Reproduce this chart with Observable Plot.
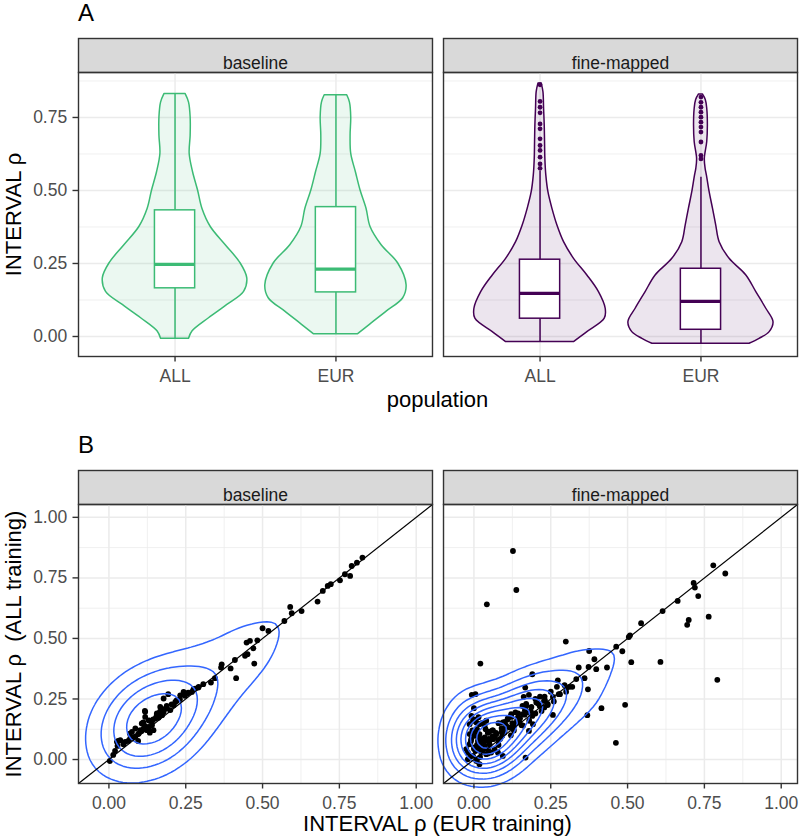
<!DOCTYPE html>
<html>
<head>
<meta charset="utf-8">
<script src="https://cdn.jsdelivr.net/npm/d3@7"></script>
<script src="https://cdn.jsdelivr.net/npm/@observablehq/plot@0.6"></script>
<style>
  body { margin: 0; background: #fff; }
  #wrap { position: relative; width: 800px; height: 840px; font-family: "Liberation Sans", Arial, Helvetica, sans-serif; color: #000; }
  .abs { position: absolute; }
  .tag { left: 78px; font-size: 24px; line-height: 24px; }
  .xt { left: 78px; width: 719px; text-align: center; font-size: 22px; }
</style>
</head>
<body>
<div id="wrap">
  <div class="abs tag" style="top:1px">A</div>
  <div class="abs" id="pA" style="top:30px;left:0px"></div>
  <div class="abs xt" style="top:387px;line-height:25px">population</div>
  <div class="abs tag" style="top:433px">B</div>
  <div class="abs" id="pB" style="top:457px;left:0px"></div>
  <div class="abs xt" style="top:814px;line-height:19px">INTERVAL ρ (EUR training)</div>
</div>
<script>
// ---------- data ----------
const facets = ["baseline", "fine-mapped"];
const populations = ["ALL", "EUR"];
const groupColors = ["#3CBB75", "#440154"];

// violin outlines: y value and half-width (in x units)
const violinBaselineAllY = [-0.008, 0.017, 0.0625, 0.108, 0.153, 0.199, 0.25, 0.3125, 0.375, 0.4375, 0.5, 0.5625, 0.625, 0.6875, 0.75, 0.801, 0.830];
const violinBaselineAllW = [0.087, 0.108, 0.211, 0.325, 0.429, 0.449, 0.408, 0.315, 0.222, 0.170, 0.143, 0.112, 0.091, 0.097, 0.097, 0.087, 0.066];
const violinBaselineEurY = [0.008, 0.040, 0.085, 0.131, 0.176, 0.25, 0.3125, 0.375, 0.4375, 0.5, 0.5625, 0.625, 0.6875, 0.75, 0.801, 0.826];
const violinBaselineEurW = [0.138, 0.211, 0.315, 0.418, 0.439, 0.387, 0.284, 0.215, 0.190, 0.153, 0.124, 0.095, 0.091, 0.095, 0.087, 0.070];
const violinFineAllY = [-0.019, 0.015, 0.061, 0.095, 0.152, 0.209, 0.266, 0.323, 0.380, 0.437, 0.494, 0.551, 0.608, 0.666, 0.723, 0.780, 0.837, 0.866];
const violinFineAllW = [0.211, 0.294, 0.402, 0.408, 0.366, 0.294, 0.211, 0.149, 0.108, 0.077, 0.052, 0.039, 0.033, 0.031, 0.029, 0.025, 0.021, 0.010];
const violinFineEurY = [-0.025, -0.008, 0.015, 0.049, 0.095, 0.152, 0.209, 0.266, 0.323, 0.380, 0.437, 0.494, 0.551, 0.574, 0.608, 0.666, 0.723, 0.780, 0.810, 0.829];
const violinFineEurW = [0.302, 0.364, 0.427, 0.451, 0.406, 0.344, 0.282, 0.178, 0.116, 0.095, 0.075, 0.054, 0.037, 0.029, 0.024, 0.039, 0.043, 0.039, 0.030, 0.012];

// box statistics: baseline ALL, baseline EUR, fine-mapped ALL, fine-mapped EUR
const boxFacet = ["baseline", "baseline", "fine-mapped", "fine-mapped"];
const boxPop = ["ALL", "EUR", "ALL", "EUR"];
const boxQ1 = [0.165, 0.151, 0.061, 0.023];
const boxMedian = [0.247, 0.231, 0.148, 0.120];
const boxQ3 = [0.432, 0.443, 0.263, 0.232];
const whiskerLow = [-0.008, 0.008, -0.019, -0.025];
const whiskerHigh = [0.830, 0.826, 0.566, 0.545];

// outliers (fine-mapped)
const outliersFineAll = [0.862, 0.805, 0.785, 0.766, 0.728, 0.711, 0.677, 0.654, 0.637, 0.614, 0.591, 0.576];
const outliersFineEur = [0.820, 0.802, 0.785, 0.768, 0.751, 0.734, 0.717, 0.700, 0.666, 0.620, 0.608];

// scatter: INTERVAL rho, EUR training (x) vs ALL training (y)
const baselineEUR = [0.825,0.807,0.790,0.768,0.785,0.752,0.722,0.712,0.696,0.679,0.627,0.595,0.590,0.571,0.519,0.500,0.483,0.459,0.448,0.470,0.451,0.443,0.473,0.410,0.396,0.367,0.365,0.414,0.345,0.332,0.307,0.291,0.275,0.258,0.247,0.231,0.220,0.193,0.204,0.188,0.177,0.166,0.171,0.161,0.155,0.144,0.133,0.117,0.112,0.117,0.128,0.106,0.133,0.095,0.079,0.095,0.068,0.063,0.047,0.030,0.028,0.020,0.014,0.003,
  0.292,0.281,0.270,0.254,0.232,0.221,0.211,0.200,0.189,0.178,0.173,0.162,0.151,0.140,0.129,0.118,0.118,0.129,0.124,0.145,0.107,0.113,0.097,0.086,0.075,0.069,0.053,0.037,0.026,0.178,0.243,0.216,0.156,0.167,0.140,0.102,0.086];
const baselineALL = [0.834,0.813,0.799,0.765,0.758,0.740,0.724,0.717,0.696,0.652,0.613,0.604,0.630,0.572,0.531,0.542,0.492,0.490,0.483,0.459,0.435,0.428,0.396,0.411,0.376,0.393,0.380,0.336,0.336,0.318,0.311,0.297,0.290,0.276,0.263,0.249,0.242,0.270,0.228,0.221,0.208,0.198,0.187,0.173,0.180,0.166,0.160,0.201,0.153,0.139,0.125,0.118,0.111,0.105,0.091,0.077,0.107,0.077,0.063,0.077,0.056,0.036,0.019,-0.006,
  0.300,0.293,0.279,0.272,0.265,0.245,0.224,0.204,0.210,0.197,0.183,0.176,0.169,0.155,0.162,0.197,0.176,0.135,0.121,0.121,0.149,0.128,0.107,0.094,0.114,0.087,0.073,0.080,0.073,0.252,0.279,0.238,0.190,0.217,0.142,0.121,0.128];
const fineEUR = [0.127,0.138,0.042,0.779,0.818,0.715,0.719,0.730,0.663,0.614,0.544,0.699,0.694,0.764,0.508,0.504,0.463,0.483,0.299,0.375,0.392,0.512,0.607,0.792,0.021,0.190,0.341,0.373,0.398,0.433,0.273,0.333,0.360,0.295,0.302,0.311,0.371,0.276,0.257,0.167,0.162,0.179,0.228,0.214,0.229,0.203,0.257,0.158,0.179,0.159,0.143,0.121,0.148,0.132,0.116,0.094,0.099,0.092,0.179,0.192,0.415,0.492,0.369,0.462,0.168,-0.007,0.005,0.000,-0.014,-0.003,0.008,0.018,0.035,-0.014,0.002,0.018,0.035,0.062,0.073,-0.014,0.002,0.018,0.035,0.051,0.067,0.078,-0.020,-0.003,-0.020,0.008,0.018,0.094,0.040,0.056,0.029,0.013,-0.009,0.024,0.046,-0.025,
  0.101,0.122,0.144,0.166,0.187,0.209,0.231,0.155,0.128,0.090,0.068,0.079,0.010,0.025,0.005,0.030,0.015,-0.005,0.010,0.045,0.050,0.020,
  -0.012,0.000,0.012,0.024,0.036,0.048,0.060,0.072,-0.010,0.002,0.014,0.026,0.038,0.050,0.062,0.005,0.015,-0.008,0.025,0.040,0.010,0.046,0.080,0.085,0.090,0.105,0.110,0.125,0.135,0.150,0.165,0.170,0.185,0.200,0.215,0.240,0.250,
  0.10,0.12,0.14,0.16,0.18,0.20,0.22,0.24,0.26,0.28,0.30,0.32,0.11,0.13,0.17,0.19,0.23,0.27,0.06,0.08];
const fineALL = [0.861,0.700,0.641,0.802,0.768,0.729,0.710,0.675,0.655,0.613,0.563,0.576,0.556,0.590,0.513,0.506,0.466,0.447,0.487,0.448,0.414,0.402,0.403,0.329,0.396,0.352,0.380,0.382,0.373,0.380,0.327,0.332,0.336,0.307,0.297,0.300,0.290,0.270,0.259,0.297,0.259,0.267,0.242,0.221,0.215,0.235,0.184,0.221,0.194,0.187,0.173,0.187,0.153,0.146,0.132,0.153,0.111,0.098,0.118,0.146,0.212,0.226,0.183,0.069,0.008,0.267,0.270,0.212,0.146,0.160,0.153,0.146,0.139,0.105,0.098,0.105,0.091,0.084,0.105,0.063,0.050,0.043,0.056,0.063,0.043,0.029,0.029,0.015,0.001,-0.006,-0.019,0.015,0.022,0.029,0.077,0.077,0.084,0.029,0.043,0.043,
  0.155,0.176,0.190,0.203,0.217,0.231,0.245,0.142,0.135,0.114,0.093,0.080,0.060,0.065,0.035,0.040,0.090,0.120,0.125,0.110,0.075,0.010,
  0.012,0.045,0.055,0.040,0.075,0.085,0.095,0.110,0.075,0.110,0.100,0.085,0.125,0.115,0.120,0.165,0.175,0.180,0.150,0.160,0.000,0.025,0.060,0.085,0.130,0.140,0.165,0.150,0.195,0.170,0.185,0.230,0.200,0.250,0.260,0.225,0.280,
  0.12,0.10,0.16,0.14,0.16,0.19,0.20,0.23,0.24,0.27,0.28,0.30,0.17,0.12,0.22,0.18,0.26,0.30,0.12,0.15];

// axis ticks
const ticksA = [0, 0.25, 0.5, 0.75];
const minorA = [0.125, 0.375, 0.625, 0.875];
const ticksB = [0, 0.25, 0.5, 0.75, 1];
const minorB = [0.125, 0.375, 0.625, 0.875];
const rhoDomain = [-0.099, 1.053];

// ---------- tables ----------
const violins = [
  {facet: "baseline", pop: "ALL", y: violinBaselineAllY, w: violinBaselineAllW},
  {facet: "baseline", pop: "EUR", y: violinBaselineEurY, w: violinBaselineEurW},
  {facet: "fine-mapped", pop: "ALL", y: violinFineAllY, w: violinFineAllW},
  {facet: "fine-mapped", pop: "EUR", y: violinFineEurY, w: violinFineEurW}
];
const violinRows = violins.flatMap(v => v.y.map((y, i) => ({
  facet: v.facet, key: v.facet + v.pop, pos: populations.indexOf(v.pop) + 1, y, w: v.w[i]
})));
const boxRows = boxFacet.map((f, i) => ({
  facet: f, pos: populations.indexOf(boxPop[i]) + 1,
  q1: boxQ1[i], med: boxMedian[i], q3: boxQ3[i], lo: whiskerLow[i], hi: whiskerHigh[i]
}));
const outlierRows = [
  ...outliersFineAll.map(y => ({facet: "fine-mapped", pos: 1, y})),
  ...outliersFineEur.map(y => ({facet: "fine-mapped", pos: 2, y}))
];
const baselineRows = baselineEUR.map((x, i) => ({facet: "baseline", eur: x, all: baselineALL[i]}));
const fineRows = fineEUR.map((x, i) => ({facet: "fine-mapped", eur: x, all: fineALL[i]}));
const scatterRows = [...baselineRows, ...fineRows];

// ---------- styles ----------
const FONT = "'Liberation Sans', Arial, Helvetica, sans-serif";
const BOX_HALF = 0.125;
const gridMajor = {stroke: "#EBEBEB", strokeOpacity: 1, strokeWidth: 1.5};
const gridMinor = {stroke: "#EBEBEB", strokeOpacity: 1, strokeWidth: 0.8};
const axisStyle = {color: "#4D4D4D", stroke: "#333333", strokeWidth: 1.4, tickSize: 5.5, fontSize: 17.5, label: null};
const fxScale = {domain: facets, paddingInner: 0.0302, paddingOuter: 0, round: false, axis: null, label: null};
const yTitleStyle = {fx: () => "baseline", frameAnchor: "left", textAnchor: "middle", lineAnchor: "middle",
  rotate: -90, dx: -65, fontSize: 22, fill: "#000"};
const contourStyle = {fx: "facet", x: "eur", y: "all", stroke: "#3366FF", strokeWidth: 1.5};

function strip(frameHeight) {
  return [
    Plot.frame({fill: "#D9D9D9", stroke: "#333333", strokeWidth: 1.4, insetTop: -34, insetBottom: frameHeight}),
    Plot.text(facets, {fx: d => d, text: d => d, frameAnchor: "top", dy: -15.5, fontSize: 17.5, fill: "#1A1A1A"})
  ];
}

// ---------- panel A ----------
const plotA = Plot.plot({
  width: 800, height: 356,
  marginTop: 42, marginBottom: 30, marginLeft: 78, marginRight: 3,
  style: {fontFamily: FONT, background: "transparent", display: "block", overflow: "visible"},
  fx: fxScale,
  x: {domain: [0.4, 2.6]},
  y: {domain: [-0.0685, 0.904]},
  color: {domain: facets, range: groupColors},
  marks: [
    ...strip(284),
    Plot.gridY(minorA, gridMinor),
    Plot.gridY(ticksA, gridMajor),
    Plot.gridX([1, 2], gridMajor),
    Plot.areaX(violinRows, {fx: "facet", z: "key", y: "y", x1: d => d.pos - d.w, x2: d => d.pos + d.w,
      fill: "facet", fillOpacity: 0.1, stroke: "facet", strokeWidth: 1.5, curve: "catmull-rom"}),
    Plot.ruleX(boxRows, {fx: "facet", x: "pos", y1: "lo", y2: "hi", stroke: "facet", strokeWidth: 1.5}),
    Plot.rect(boxRows, {fx: "facet", x1: d => d.pos - BOX_HALF, x2: d => d.pos + BOX_HALF, y1: "q1", y2: "q3",
      fill: "white", stroke: "facet", strokeWidth: 1.5}),
    Plot.ruleY(boxRows, {fx: "facet", y: "med", x1: d => d.pos - BOX_HALF, x2: d => d.pos + BOX_HALF,
      stroke: "facet", strokeWidth: 3.2}),
    Plot.dot(outlierRows, {fx: "facet", x: "pos", y: "y", fill: "facet", r: 2.4}),
    Plot.frame({stroke: "#333333", strokeWidth: 1.4}),
    Plot.axisY(ticksA, {...axisStyle, tickPadding: 5.8, tickFormat: d3.format(".2f")}),
    Plot.axisX([1, 2], {...axisStyle, tickPadding: 8, tickFormat: i => populations[i - 1]}),
    Plot.text(["INTERVAL ρ"], yTitleStyle)
  ]
});
document.getElementById("pA").appendChild(plotA);

// ---------- panel B ----------
const plotB = Plot.plot({
  width: 800, height: 355,
  marginTop: 47, marginBottom: 29, marginLeft: 78, marginRight: 3,
  style: {fontFamily: FONT, background: "transparent", display: "block", overflow: "visible"},
  fx: fxScale,
  x: {domain: rhoDomain},
  y: {domain: rhoDomain},
  marks: [
    ...strip(279),
    Plot.gridX(minorB, gridMinor),
    Plot.gridY(minorB, gridMinor),
    Plot.gridX(ticksB, gridMajor),
    Plot.gridY(ticksB, gridMajor),
    Plot.dot(scatterRows, {fx: "facet", x: "eur", y: "all", r: 2.9, fill: "#000"}),
    Plot.density(baselineRows, {...contourStyle, bandwidth: 27, thresholds: 5}),
    Plot.density(fineRows, {...contourStyle, bandwidth: 18, thresholds: 9}),
    Plot.link(facets, {fx: d => d, x1: () => rhoDomain[0], y1: () => rhoDomain[0],
      x2: () => rhoDomain[1], y2: () => rhoDomain[1], stroke: "#000", strokeWidth: 1.2}),
    Plot.frame({stroke: "#333333", strokeWidth: 1.4}),
    Plot.axisY(ticksB, {...axisStyle, tickPadding: 5.8, tickFormat: d3.format(".2f")}),
    Plot.axisX(ticksB, {...axisStyle, tickPadding: 7.5, tickFormat: d3.format(".2f")}),
    Plot.text(["INTERVAL ρ\u00a0 (ALL training)"], yTitleStyle)
  ]
});
document.getElementById("pB").appendChild(plotB);
</script>
</body>
</html>
